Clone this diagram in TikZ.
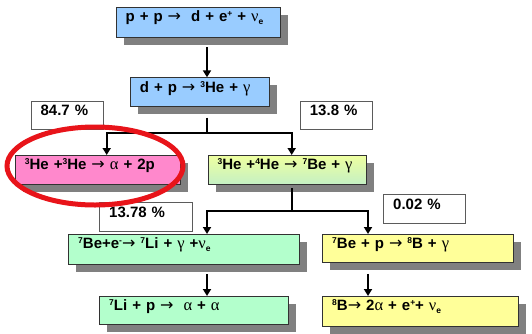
\documentclass[tikz,border=0pt]{standalone}
\usepackage{fontspec}
\setmainfont{Liberation Sans}
\newfontfamily\grk{Liberation Serif}
\newfontfamily\djv{DejaVu Sans}
\usetikzlibrary{arrows.meta,shadows,calc}
\definecolor{cblue}{RGB}{153,204,255}
\definecolor{cpink}{RGB}{255,136,204}
\definecolor{cgreen}{RGB}{179,255,204}
\definecolor{cyellow}{RGB}{255,255,153}
\definecolor{cytop}{RGB}{238,255,160}
\definecolor{cybot}{RGB}{196,240,196}
\definecolor{cshadow}{RGB}{128,128,128}
\definecolor{cborder}{RGB}{50,50,50}
\definecolor{cred}{RGB}{232,20,26}
\newcommand\myup[1]{\raisebox{5pt}{\fontsize{8.5}{8}\selectfont #1}}
\newcommand\mydn[1]{\raisebox{-2.8pt}{\fontsize{8.5}{8}\selectfont #1}}
\newcommand\gr[1]{{\grk\mdseries\fontsize{16.5}{16}\selectfont #1}}
\newcommand\ar{{\djv\mdseries\fontsize{16}{16}\selectfont →}}
\newcommand\mkbox[7]{%
  \pgfmathsetmacro\tw{#5-19}\pgfmathsetmacro\td{#6-14.5}%
  \node[#2, minimum width=#5pt, minimum height=#6pt, text width=\tw pt, text depth=\td pt] (#1) at (#3,#4) {#7};}
\begin{document}
\begin{tikzpicture}[x=1pt,y=-1pt,
  bx/.style={anchor=north west, inner xsep=9.5pt, inner ysep=0pt, text height=14.5pt,
    align=left, draw=cborder, line width=0.8pt,
    font=\fontsize{15}{16}\selectfont\bfseries},
  shbox/.style={bx, drop shadow={shadow xshift=7.5pt, shadow yshift=-7.5pt, fill=cshadow, opacity=1, draw=none}},
  pct/.style={bx, fill=white, draw=cborder!80},
  arr/.style={line width=2pt, -{Triangle[width=8pt,length=7pt]}},
  ln/.style={line width=2pt},
  ring/.style={draw=cred, line width=5pt}]
\useasboundingbox (0,0) rectangle (532,333);
% column coordinates
\coordinate (xA) at (106.7,0);
\coordinate (xB) at (207,0);
\coordinate (xC) at (291.7,0);
\coordinate (xD) at (368,0);
% boxes
\mkbox{pp}{shbox, fill=cblue}{115.7}{6.7}{164.3}{30.6}{p + p \ar\ \ d + e\myup{+} + \gr{ν}\mydn{e}}
\mkbox{dp}{shbox, fill=cblue}{130}{77.3}{138.7}{28.4}{d + p \ar\ \myup{3}He + \gr{γ}}
\mkbox{hethree}{shbox, fill=cpink}{15}{155}{165}{29}{\myup{3}He +\myup{3}He \ar\ \gr{α} + 2p}
\mkbox{hefour}{shbox, top color=cytop, bottom color=cybot}{207.7}{155}{158.3}{29.3}{\myup{3}He +\myup{4}He \ar\ \myup{7}Be + \gr{γ}}
\mkbox{bee}{shbox, fill=cgreen}{68.3}{234}{230.7}{30.3}{\myup{7}Be+e\myup{-}\ar\ \myup{7}Li + \gr{γ} +\gr{ν}\mydn{e}}
\mkbox{bep}{shbox, fill=cyellow}{322.3}{234}{191}{28}{\myup{7}Be + p \ar\ \myup{8}B + \gr{γ}}
\mkbox{lip}{shbox, fill=cgreen}{99.3}{296}{189}{28.3}{\myup{7}Li + p \ar\ \ \gr{α} + \gr{α}}
\mkbox{bdec}{shbox, fill=cyellow}{322.3}{296}{196}{30.4}{\myup{8}B\ar\ 2\gr{α} + e\myup{+}+ \gr{ν}\mydn{e}}
% percentages
\mkbox{pa}{pct}{30.7}{100.7}{72.3}{28.3}{84.7 \%}
\mkbox{pb}{pct}{300}{100.7}{72}{28.3}{13.8 \%}
\mkbox{pc}{pct}{99.3}{202.3}{92.7}{28.4}{13.78 \%}
\mkbox{pd}{pct}{383.3}{194.3}{81.7}{28.7}{0.02 \%}
% connectors
\draw[arr] ($(pp.south -| xB)+(0,9)$) -- (dp.north -| xB);
\draw[ln] ($(dp.south -| xB)+(0,11)$) -- ++(0,15) coordinate (j1);
\draw[arr] (j1) -| (hethree.north -| xA);
\draw[arr] (j1) -| (hefour.north -| xC);
\draw[ln] ($(hefour.south -| xC)+(0,3)$) -- ++(0,23) coordinate (j2);
\draw[arr] (j2) -| (bee.north -| xB);
\draw[arr] (j2) -| (bep.north -| xD);
\draw[arr] ($(bee.south -| xB)+(0,9)$) -- (lip.north -| xB);
\draw[arr] ($(bep.south -| xD)+(0,11)$) -- (bdec.north -| xD);
% highlight ring
\draw[ring] (95,166) ellipse [x radius=88, y radius=39];
\end{tikzpicture}
\end{document}
